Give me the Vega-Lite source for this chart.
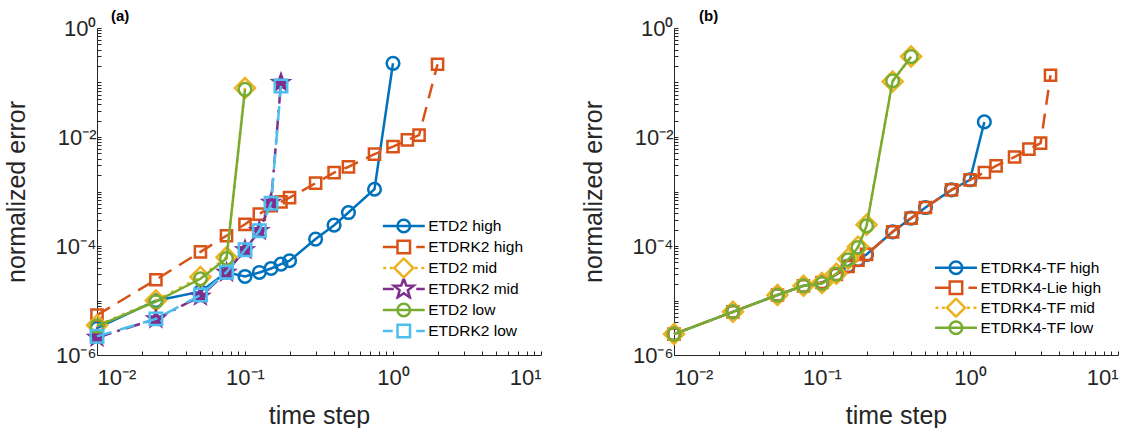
{
  "$schema": "https://vega.github.io/schema/vega-lite/v6.json",
  "padding": {"left": 4, "top": 9, "right": 0, "bottom": 0},
  "spacing": 39,
  "resolve": {"scale": {"stroke": "independent", "shape": "independent"}, "legend": {"stroke": "independent", "shape": "independent"}},
  "config": {
    "view": {"stroke": null},
    "axis": {
      "labelFont": "Liberation Sans", "labelFontSize": 22, "labelColor": "#262626",
      "titleFont": "Liberation Sans", "titleFontSize": 25, "titleFontWeight": "normal", "titleColor": "#262626",
      "domainColor": "#262626", "tickColor": "#262626", "domainWidth": 1, "tickWidth": 1, "grid": false, "labelOverlap": false, "tickSize": -4
    },
    "legend": {"labelFont": "Liberation Sans", "labelFontSize": 15.5, "labelColor": "#000000"}
  },
  "hconcat": [
    {
      "width": 444, "height": 327,
      "title": {"text": "(a)", "anchor": "start", "frame": "group", "font": "Liberation Sans", "fontSize": 15, "fontWeight": "bold", "color": "#000000", "baseline": "bottom", "dx": 14, "dy": 26},
      "data": {"values": [
        {"s": "ETD2 high", "x": 0.01, "y": 3.1e-6}, {"s": "ETD2 high", "x": 0.025, "y": 9.9e-6}, {"s": "ETD2 high", "x": 0.05, "y": 1.45e-5}, {"s": "ETD2 high", "x": 0.075, "y": 3.3e-5}, {"s": "ETD2 high", "x": 0.1, "y": 2.76e-5}, {"s": "ETD2 high", "x": 0.125, "y": 3.27e-5}, {"s": "ETD2 high", "x": 0.15, "y": 3.87e-5}, {"s": "ETD2 high", "x": 0.175, "y": 4.66e-5}, {"s": "ETD2 high", "x": 0.2, "y": 5.36e-5}, {"s": "ETD2 high", "x": 0.3, "y": 1.34e-4}, {"s": "ETD2 high", "x": 0.4, "y": 2.41e-4}, {"s": "ETD2 high", "x": 0.5, "y": 4.11e-4}, {"s": "ETD2 high", "x": 0.75, "y": 1.1e-3}, {"s": "ETD2 high", "x": 1.0, "y": 0.225},
        {"s": "ETDRK2 high", "x": 0.01, "y": 5.4e-6}, {"s": "ETDRK2 high", "x": 0.025, "y": 2.4e-5}, {"s": "ETDRK2 high", "x": 0.05, "y": 7.8e-5}, {"s": "ETDRK2 high", "x": 0.075, "y": 1.54e-4}, {"s": "ETDRK2 high", "x": 0.1, "y": 2.5e-4}, {"s": "ETDRK2 high", "x": 0.125, "y": 3.85e-4}, {"s": "ETDRK2 high", "x": 0.15, "y": 5.5e-4}, {"s": "ETDRK2 high", "x": 0.175, "y": 6.46e-4}, {"s": "ETDRK2 high", "x": 0.2, "y": 7.7e-4}, {"s": "ETDRK2 high", "x": 0.3, "y": 1.42e-3}, {"s": "ETDRK2 high", "x": 0.4, "y": 2.22e-3}, {"s": "ETDRK2 high", "x": 0.5, "y": 2.83e-3}, {"s": "ETDRK2 high", "x": 0.75, "y": 4.84e-3}, {"s": "ETDRK2 high", "x": 1.0, "y": 6.67e-3}, {"s": "ETDRK2 high", "x": 1.25, "y": 8.85e-3}, {"s": "ETDRK2 high", "x": 1.5, "y": 1.08e-2}, {"s": "ETDRK2 high", "x": 2.0, "y": 0.216},
        {"s": "ETD2 mid", "x": 0.01, "y": 3.5e-6}, {"s": "ETD2 mid", "x": 0.025, "y": 1.0e-5}, {"s": "ETD2 mid", "x": 0.05, "y": 2.7e-5}, {"s": "ETD2 mid", "x": 0.075, "y": 6.2e-5}, {"s": "ETD2 mid", "x": 0.1, "y": 0.079},
        {"s": "ETDRK2 mid", "x": 0.01, "y": 2.1e-6}, {"s": "ETDRK2 mid", "x": 0.025, "y": 4.57e-6}, {"s": "ETDRK2 mid", "x": 0.05, "y": 1.19e-5}, {"s": "ETDRK2 mid", "x": 0.075, "y": 3.27e-5}, {"s": "ETDRK2 mid", "x": 0.1, "y": 8.5e-5}, {"s": "ETDRK2 mid", "x": 0.125, "y": 1.9e-4}, {"s": "ETDRK2 mid", "x": 0.15, "y": 6.27e-4}, {"s": "ETDRK2 mid", "x": 0.175, "y": 0.099},
        {"s": "ETD2 low", "x": 0.01, "y": 3.4e-6}, {"s": "ETD2 low", "x": 0.025, "y": 9.5e-6}, {"s": "ETD2 low", "x": 0.05, "y": 2.5e-5}, {"s": "ETD2 low", "x": 0.075, "y": 5.9e-5}, {"s": "ETD2 low", "x": 0.1, "y": 0.075},
        {"s": "ETDRK2 low", "x": 0.01, "y": 2.2e-6}, {"s": "ETDRK2 low", "x": 0.025, "y": 4.6e-6}, {"s": "ETDRK2 low", "x": 0.05, "y": 1.26e-5}, {"s": "ETDRK2 low", "x": 0.075, "y": 3.3e-5}, {"s": "ETDRK2 low", "x": 0.1, "y": 8.5e-5}, {"s": "ETDRK2 low", "x": 0.125, "y": 1.9e-4}, {"s": "ETDRK2 low", "x": 0.15, "y": 6.1e-4}, {"s": "ETDRK2 low", "x": 0.175, "y": 0.0865}
      ]},
      "encoding": {
        "x": {"field": "x", "type": "quantitative", "scale": {"type": "log", "domain": [0.01, 10], "nice": false},
          "axis": {"title": "time step", "values": [0.01,0.02,0.03,0.04,0.05,0.06,0.07,0.08,0.09,0.1,0.2,0.3,0.4,0.5,0.6,0.7,0.8,0.9,1,2,3,4,5,6,7,8,9,10],
            "labelExpr": "datum.value == 0.01 ? '10⁻²' : datum.value == 0.1 ? '10⁻¹' : datum.value == 1 ? '10⁰' : datum.value == 10 ? '10¹' : ''",
            "labelPadding": 16, "titlePadding": 15}},
        "y": {"field": "y", "type": "quantitative", "scale": {"type": "log", "domain": [1e-6, 1], "nice": false},
          "axis": {"title": "normalized error", "values": [1e-6,2e-6,3e-6,4e-6,5e-6,6e-6,7e-6,8e-6,9e-6,1e-5,2e-5,3e-5,4e-5,5e-5,6e-5,7e-5,8e-5,9e-5,1e-4,2e-4,3e-4,4e-4,5e-4,6e-4,7e-4,8e-4,9e-4,1e-3,2e-3,3e-3,4e-3,5e-3,6e-3,7e-3,8e-3,9e-3,0.01,0.02,0.03,0.04,0.05,0.06,0.07,0.08,0.09,0.1,0.2,0.3,0.4,0.5,0.6,0.7,0.8,0.9,1],
            "labelExpr": "datum.value == 1 ? '10⁰' : datum.value == 0.01 ? '10⁻²' : datum.value == 0.0001 ? '10⁻⁴' : datum.value == 0.000001 ? '10⁻⁶' : ''",
            "labelPadding": 5, "titlePadding": 26}}
      },
      "layer": [
        {"transform": [{"filter": "datum.s == 'ETD2 high'"}], "mark": {"type": "line", "color": "#0072BD", "strokeWidth": 2.5, "point": {"shape": "circle", "filled": false, "size": 160, "strokeWidth": 2.5, "color": "#0072BD"}}, "encoding": {}},
        {"transform": [{"filter": "datum.s == 'ETDRK2 high'"}], "mark": {"type": "line", "color": "#D95319", "strokeWidth": 2.5, "strokeDash": [15, 9], "point": {"shape": "square", "filled": false, "size": 125, "strokeWidth": 2.5, "color": "#D95319"}}, "encoding": {}},
        {"transform": [{"filter": "datum.s == 'ETD2 mid'"}], "mark": {"type": "line", "color": "#EDB120", "strokeWidth": 2.5, "strokeDash": [3, 6], "point": {"shape": "diamond", "filled": false, "size": 400, "strokeWidth": 2.5, "color": "#EDB120"}}, "encoding": {}},
        {"transform": [{"filter": "datum.s == 'ETDRK2 mid'"}], "mark": {"type": "line", "color": "#7E2F8E", "strokeWidth": 2.5, "strokeDash": [15, 6, 3, 6], "point": {"shape": "M0,-1L0.235,-0.324L0.951,-0.309L0.38,0.124L0.588,0.809L0,0.4L-0.588,0.809L-0.38,0.124L-0.951,-0.309L-0.235,-0.324Z", "filled": true, "size": 576, "color": "#7E2F8E"}}, "encoding": {}},
        {"transform": [{"filter": "datum.s == 'ETD2 low'"}], "mark": {"type": "line", "color": "#77AC30", "strokeWidth": 2.5, "point": {"shape": "circle", "filled": false, "size": 160, "strokeWidth": 2.5, "color": "#77AC30"}}, "encoding": {}},
        {"transform": [{"filter": "datum.s == 'ETDRK2 low'"}], "mark": {"type": "line", "color": "#4DBEEE", "strokeWidth": 2.5, "strokeDash": [15, 9], "point": {"shape": "square", "filled": false, "size": 156, "strokeWidth": 2.5, "color": "#4DBEEE"}}, "encoding": {}},
        {"mark": {"type": "point", "opacity": 0},
          "encoding": {
            "stroke": {"field": "s", "type": "nominal", "scale": {"domain": ["ETD2 high","ETDRK2 high","ETD2 mid","ETDRK2 mid","ETD2 low","ETDRK2 low"], "range": ["#0072BD","#D95319","#EDB120","#7E2F8E","#77AC30","#4DBEEE"]},
              "legend": {"title": null, "orient": "none", "legendX": 285.5, "legendY": 187.6, "padding": 0, "symbolSize": 100, "symbolStrokeWidth": 2.5, "symbolOpacity": 1, "symbolOffset": 13.5, "labelOffset": 16.75, "rowPadding": 0, "clipHeight": 20.7}},
            "shape": {"field": "s", "type": "nominal", "scale": {"domain": ["ETD2 high","ETDRK2 high","ETD2 mid","ETDRK2 mid","ETD2 low","ETDRK2 low"], "range": [
              "M-4.2,0L4.2,0M-1.25,0A1.25,1.25 0 1,0 1.25,0A1.25,1.25 0 1,0 -1.25,0Z",
              "M-4.2,0L-1.25,0M2.5,0L4.2,0M-1.25,-1.25L1.25,-1.25L1.25,1.25L-1.25,1.25Z",
              "M-4.1,0L-3.5,0M-2.8,0L-2.2,0M2.2,0L2.8,0M3.5,0L4.1,0M0,-1.9L1.9,0L0,1.9L-1.9,0Z",
              "M-4.2,0L-2.0,0M2.5,0L4.2,0M0,-2.1L0.51,-0.7L2.0,-0.65L0.82,0.27L1.23,1.7L0,0.86L-1.23,1.7L-0.82,0.27L-2.0,-0.65L-0.51,-0.7Z",
              "M-4.2,0L4.2,0M-1.25,0A1.25,1.25 0 1,0 1.25,0A1.25,1.25 0 1,0 -1.25,0Z",
              "M-4.2,0L-2.2,0M2.5,0L4.2,0M-1.25,-1.25L1.25,-1.25L1.25,1.25L-1.25,1.25Z"]},
              "legend": {"title": null, "orient": "none", "legendX": 285.5, "legendY": 187.6, "padding": 0, "symbolSize": 100, "symbolStrokeWidth": 2.5, "symbolOpacity": 1, "symbolOffset": 13.5, "labelOffset": 16.75, "rowPadding": 0, "clipHeight": 20.7}}
          }}
      ]
    },
    {
      "width": 444, "height": 327,
      "title": {"text": "(b)", "anchor": "start", "frame": "group", "font": "Liberation Sans", "fontSize": 15, "fontWeight": "bold", "color": "#000000", "baseline": "bottom", "dx": 25, "dy": 26},
      "data": {"values": [
        {"s": "ETDRK4-TF high", "x": 0.01, "y": 2.42e-6}, {"s": "ETDRK4-TF high", "x": 0.025, "y": 6.2e-6}, {"s": "ETDRK4-TF high", "x": 0.05, "y": 1.26e-5}, {"s": "ETDRK4-TF high", "x": 0.075, "y": 1.86e-5}, {"s": "ETDRK4-TF high", "x": 0.1, "y": 2.14e-5}, {"s": "ETDRK4-TF high", "x": 0.125, "y": 3.0e-5}, {"s": "ETDRK4-TF high", "x": 0.15, "y": 4.3e-5}, {"s": "ETDRK4-TF high", "x": 0.175, "y": 5.6e-5}, {"s": "ETDRK4-TF high", "x": 0.2, "y": 7.0e-5}, {"s": "ETDRK4-TF high", "x": 0.3, "y": 1.82e-4}, {"s": "ETDRK4-TF high", "x": 0.4, "y": 3.24e-4}, {"s": "ETDRK4-TF high", "x": 0.5, "y": 5.08e-4}, {"s": "ETDRK4-TF high", "x": 0.75, "y": 1.07e-3}, {"s": "ETDRK4-TF high", "x": 1.0, "y": 1.64e-3}, {"s": "ETDRK4-TF high", "x": 1.25, "y": 1.89e-2},
        {"s": "ETDRK4-Lie high", "x": 0.01, "y": 2.42e-6}, {"s": "ETDRK4-Lie high", "x": 0.025, "y": 6.2e-6}, {"s": "ETDRK4-Lie high", "x": 0.05, "y": 1.26e-5}, {"s": "ETDRK4-Lie high", "x": 0.075, "y": 1.86e-5}, {"s": "ETDRK4-Lie high", "x": 0.1, "y": 2.14e-5}, {"s": "ETDRK4-Lie high", "x": 0.125, "y": 3.0e-5}, {"s": "ETDRK4-Lie high", "x": 0.15, "y": 4.2e-5}, {"s": "ETDRK4-Lie high", "x": 0.175, "y": 5.5e-5}, {"s": "ETDRK4-Lie high", "x": 0.2, "y": 7.0e-5}, {"s": "ETDRK4-Lie high", "x": 0.3, "y": 1.82e-4}, {"s": "ETDRK4-Lie high", "x": 0.4, "y": 3.24e-4}, {"s": "ETDRK4-Lie high", "x": 0.5, "y": 5.08e-4}, {"s": "ETDRK4-Lie high", "x": 0.75, "y": 1.07e-3}, {"s": "ETDRK4-Lie high", "x": 1.0, "y": 1.64e-3}, {"s": "ETDRK4-Lie high", "x": 1.25, "y": 2.23e-3}, {"s": "ETDRK4-Lie high", "x": 1.5, "y": 2.95e-3}, {"s": "ETDRK4-Lie high", "x": 2.0, "y": 4.3e-3}, {"s": "ETDRK4-Lie high", "x": 2.5, "y": 5.97e-3}, {"s": "ETDRK4-Lie high", "x": 3.0, "y": 7.7e-3}, {"s": "ETDRK4-Lie high", "x": 3.5, "y": 0.136},
        {"s": "ETDRK4-TF mid", "x": 0.01, "y": 2.42e-6}, {"s": "ETDRK4-TF mid", "x": 0.025, "y": 6.2e-6}, {"s": "ETDRK4-TF mid", "x": 0.05, "y": 1.26e-5}, {"s": "ETDRK4-TF mid", "x": 0.075, "y": 1.86e-5}, {"s": "ETDRK4-TF mid", "x": 0.1, "y": 2.1e-5}, {"s": "ETDRK4-TF mid", "x": 0.125, "y": 3.1e-5}, {"s": "ETDRK4-TF mid", "x": 0.15, "y": 5.8e-5}, {"s": "ETDRK4-TF mid", "x": 0.175, "y": 9.7e-5}, {"s": "ETDRK4-TF mid", "x": 0.2, "y": 2.45e-4}, {"s": "ETDRK4-TF mid", "x": 0.3, "y": 0.104}, {"s": "ETDRK4-TF mid", "x": 0.4, "y": 0.30},
        {"s": "ETDRK4-TF low", "x": 0.01, "y": 2.42e-6}, {"s": "ETDRK4-TF low", "x": 0.025, "y": 6.2e-6}, {"s": "ETDRK4-TF low", "x": 0.05, "y": 1.26e-5}, {"s": "ETDRK4-TF low", "x": 0.075, "y": 1.86e-5}, {"s": "ETDRK4-TF low", "x": 0.1, "y": 2.05e-5}, {"s": "ETDRK4-TF low", "x": 0.125, "y": 3.05e-5}, {"s": "ETDRK4-TF low", "x": 0.15, "y": 5.6e-5}, {"s": "ETDRK4-TF low", "x": 0.175, "y": 9.4e-5}, {"s": "ETDRK4-TF low", "x": 0.2, "y": 2.34e-4}, {"s": "ETDRK4-TF low", "x": 0.3, "y": 0.107}, {"s": "ETDRK4-TF low", "x": 0.4, "y": 0.298}
      ]},
      "encoding": {
        "x": {"field": "x", "type": "quantitative", "scale": {"type": "log", "domain": [0.01, 10], "nice": false},
          "axis": {"title": "time step", "values": [0.01,0.02,0.03,0.04,0.05,0.06,0.07,0.08,0.09,0.1,0.2,0.3,0.4,0.5,0.6,0.7,0.8,0.9,1,2,3,4,5,6,7,8,9,10],
            "labelExpr": "datum.value == 0.01 ? '10⁻²' : datum.value == 0.1 ? '10⁻¹' : datum.value == 1 ? '10⁰' : datum.value == 10 ? '10¹' : ''",
            "labelPadding": 16, "titlePadding": 15}},
        "y": {"field": "y", "type": "quantitative", "scale": {"type": "log", "domain": [1e-6, 1], "nice": false},
          "axis": {"title": "normalized error", "values": [1e-6,2e-6,3e-6,4e-6,5e-6,6e-6,7e-6,8e-6,9e-6,1e-5,2e-5,3e-5,4e-5,5e-5,6e-5,7e-5,8e-5,9e-5,1e-4,2e-4,3e-4,4e-4,5e-4,6e-4,7e-4,8e-4,9e-4,1e-3,2e-3,3e-3,4e-3,5e-3,6e-3,7e-3,8e-3,9e-3,0.01,0.02,0.03,0.04,0.05,0.06,0.07,0.08,0.09,0.1,0.2,0.3,0.4,0.5,0.6,0.7,0.8,0.9,1],
            "labelExpr": "datum.value == 1 ? '10⁰' : datum.value == 0.01 ? '10⁻²' : datum.value == 0.0001 ? '10⁻⁴' : datum.value == 0.000001 ? '10⁻⁶' : ''",
            "labelPadding": 5, "titlePadding": 26}}
      },
      "layer": [
        {"transform": [{"filter": "datum.s == 'ETDRK4-TF high'"}], "mark": {"type": "line", "color": "#0072BD", "strokeWidth": 2.5, "point": {"shape": "circle", "filled": false, "size": 160, "strokeWidth": 2.5, "color": "#0072BD"}}, "encoding": {}},
        {"transform": [{"filter": "datum.s == 'ETDRK4-Lie high'"}], "mark": {"type": "line", "color": "#D95319", "strokeWidth": 2.5, "strokeDash": [15, 9], "point": {"shape": "square", "filled": false, "size": 125, "strokeWidth": 2.5, "color": "#D95319"}}, "encoding": {}},
        {"transform": [{"filter": "datum.s == 'ETDRK4-TF mid'"}], "mark": {"type": "line", "color": "#EDB120", "strokeWidth": 2.5, "strokeDash": [3, 6], "point": {"shape": "diamond", "filled": false, "size": 400, "strokeWidth": 2.5, "color": "#EDB120"}}, "encoding": {}},
        {"transform": [{"filter": "datum.s == 'ETDRK4-TF low'"}], "mark": {"type": "line", "color": "#77AC30", "strokeWidth": 2.5, "point": {"shape": "circle", "filled": false, "size": 160, "strokeWidth": 2.5, "color": "#77AC30"}}, "encoding": {}},
        {"mark": {"type": "point", "opacity": 0},
          "encoding": {
            "stroke": {"field": "s", "type": "nominal", "scale": {"domain": ["ETDRK4-TF high","ETDRK4-Lie high","ETDRK4-TF mid","ETDRK4-TF low"], "range": ["#0072BD","#D95319","#EDB120","#77AC30"]},
              "legend": {"title": null, "orient": "none", "legendX": 260.7, "legendY": 229.7, "padding": 0, "symbolSize": 100, "symbolStrokeWidth": 2.5, "symbolOpacity": 1, "symbolOffset": 13.5, "labelOffset": 16.75, "rowPadding": 0, "clipHeight": 20}},
            "shape": {"field": "s", "type": "nominal", "scale": {"domain": ["ETDRK4-TF high","ETDRK4-Lie high","ETDRK4-TF mid","ETDRK4-TF low"], "range": [
              "M-4.2,0L4.2,0M-1.25,0A1.25,1.25 0 1,0 1.25,0A1.25,1.25 0 1,0 -1.25,0Z",
              "M-4.2,0L-1.25,0M2.5,0L4.2,0M-1.25,-1.25L1.25,-1.25L1.25,1.25L-1.25,1.25Z",
              "M-4.1,0L-3.5,0M-2.8,0L-2.2,0M2.2,0L2.8,0M3.5,0L4.1,0M0,-1.8L1.8,0L0,1.8L-1.8,0Z",
              "M-4.2,0L4.2,0M-1.25,0A1.25,1.25 0 1,0 1.25,0A1.25,1.25 0 1,0 -1.25,0Z"]},
              "legend": {"title": null, "orient": "none", "legendX": 260.7, "legendY": 229.7, "padding": 0, "symbolSize": 100, "symbolStrokeWidth": 2.5, "symbolOpacity": 1, "symbolOffset": 13.5, "labelOffset": 16.75, "rowPadding": 0, "clipHeight": 20}}
          }}
      ]
    }
  ]
}
